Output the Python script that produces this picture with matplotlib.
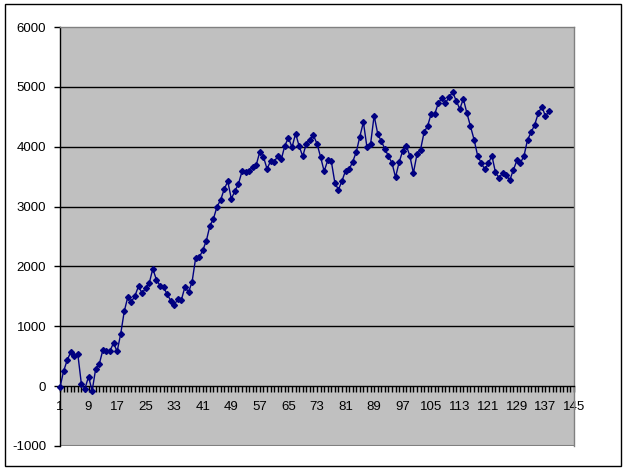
import matplotlib
matplotlib.use("Agg")
import matplotlib.pyplot as plt
from matplotlib.patches import Rectangle
from matplotlib.ticker import MultipleLocator, FixedLocator

plt.rcParams['font.family'] = ['Liberation Sans', 'DejaVu Sans']
plt.rcParams['axes.unicode_minus'] = False

values = [
    -20, 250, 430, 570, 500, 530, 30, -40, 160, -80,
    290, 370, 600, 580, 590, 720, 580, 870, 1250, 1490,
    1410, 1510, 1670, 1550, 1640, 1720, 1960, 1780, 1680, 1650,
    1540, 1430, 1350, 1460, 1440, 1660, 1570, 1740, 2140, 2150,
    2270, 2430, 2680, 2800, 3000, 3110, 3290, 3420, 3130, 3260,
    3380, 3590, 3570, 3600, 3660, 3700, 3920, 3830, 3630, 3760,
    3750, 3840, 3790, 4020, 4150, 3990, 4220, 4010, 3840, 4050,
    4120, 4190, 4050, 3830, 3590, 3770, 3760, 3400, 3280, 3430,
    3600, 3620, 3750, 3910, 4170, 4410, 3990, 4040, 4520, 4220,
    4090, 3970, 3840, 3730, 3490, 3740, 3930, 4020, 3850, 3560,
    3870, 3950, 4240, 4350, 4550, 4550, 4730, 4810, 4730, 4830,
    4910, 4770, 4630, 4800, 4560, 4340, 4120, 3850, 3730, 3620,
    3720, 3850, 3570, 3480, 3560, 3530, 3440, 3610, 3770, 3730,
    3850, 4120, 4240, 4370, 4560, 4670, 4510, 4590,
]
categories = list(range(1, len(values) + 1))
x_tick_labels = list(range(1, 146, 8))
y_ticks = list(range(-1000, 6001, 1000))

W, H = 625, 470
fig = plt.figure(figsize=(W / 100, H / 100), dpi=100)
fig.patch.set_facecolor('white')

# outer chart border
fig.add_artist(Rectangle((5 / W, 4 / H), 616 / W, 462 / H, transform=fig.transFigure,
                         fill=False, edgecolor='black', linewidth=1.0))

left, right, top, bottom = 60, 574, 27, 446
ax = fig.add_axes([left / W, 1 - bottom / H, (right - left) / W, (bottom - top) / H])
ax.set_facecolor('#C0C0C0')

ax.set_xlim(1, 145)
ax.set_ylim(-1000, 6000)

for v in y_ticks:
    if v in (-1000, 6000, 0):
        continue
    ax.axhline(v, color='black', linewidth=1.0, zorder=1)

ax.plot(categories, values, color='#000080', linewidth=1.0, marker='D',
        markersize=3.0, markerfacecolor='#000080', markeredgecolor='#000080', zorder=3,
        clip_on=False)

ax.spines['left'].set_color('black')
ax.spines['left'].set_linewidth(1.0)
ax.spines['bottom'].set_position(('data', 0))
ax.spines['bottom'].set_color('black')
ax.spines['bottom'].set_linewidth(1.0)
for s in ('top', 'right'):
    ax.spines[s].set_color('#808080')
    ax.spines[s].set_linewidth(1.0)
ax.axhline(-1000, color='#808080', linewidth=1.5, zorder=2)

ax.yaxis.set_major_locator(FixedLocator(y_ticks))
ax.set_yticklabels([str(v) for v in y_ticks])
ax.xaxis.set_major_locator(FixedLocator(x_tick_labels))
ax.set_xticklabels([str(v) for v in x_tick_labels])
ax.xaxis.set_minor_locator(MultipleLocator(1))

ax.tick_params(axis='y', direction='out', length=4, width=1, colors='black',
               labelsize=9.5, pad=6)
ax.tick_params(axis='x', which='major', direction='out', length=4, width=1,
               colors='black', labelsize=9.5, pad=7)
ax.tick_params(axis='x', which='minor', direction='out', length=4, width=1, colors='black')

fig.savefig('out.png', dpi=100, facecolor='white')
